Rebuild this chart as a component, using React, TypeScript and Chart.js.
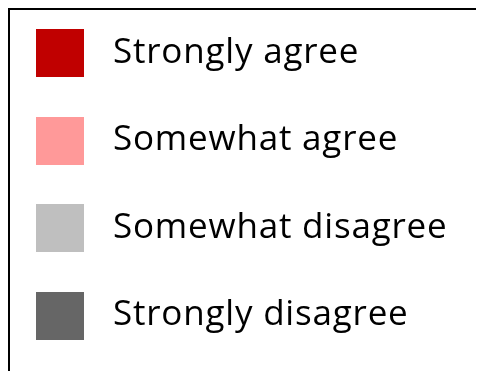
import React, { useEffect, useRef } from 'react';
import { Chart, registerables } from 'chart.js';

Chart.register(...registerables);

// Legend-only chart: the series shown in the legend
const categories: string[] = [];
const seriesLabels = ['Strongly agree', 'Somewhat agree', 'Somewhat disagree', 'Strongly disagree'];
const seriesColors = ['#C00000', '#FF9999', '#BFBFBF', '#666666'];
const seriesValues: number[][] = [[], [], [], []];

const SWATCH = 48;

function makeSwatch(color: string): HTMLCanvasElement {
  const c = document.createElement('canvas');
  c.width = SWATCH;
  c.height = SWATCH;
  const g = c.getContext('2d')!;
  g.fillStyle = color;
  g.fillRect(0, 0, SWATCH, SWATCH);
  return c;
}

const spacingPlugin = {
  id: 'letterSpacing',
  beforeLayout(chart: any) {
    chart.ctx.letterSpacing = '0.8px';
  },
  beforeDraw(chart: any) {
    chart.ctx.letterSpacing = '0.8px';
  },
};

export default function App() {
  const ref = useRef<HTMLCanvasElement | null>(null);

  useEffect(() => {
    if (!ref.current) return;
    const swatches = seriesColors.map(makeSwatch);
    const chart = new Chart(ref.current, {
      type: 'bar',
      data: {
        labels: categories,
        datasets: seriesLabels.map((label, i) => ({
          label,
          data: seriesValues[i],
          backgroundColor: seriesColors[i],
        })),
      },
      plugins: [spacingPlugin],
      options: {
        responsive: false,
        animation: false,
        layout: { padding: { left: -38, top: -27, right: 0, bottom: -80 } },
        scales: { x: { display: false }, y: { display: false } },
        plugins: {
          tooltip: { enabled: false },
          legend: {
            display: true,
            position: 'left',
            align: 'start',
            maxWidth: 2000,
            labels: {
              color: '#000',
              font: { family: 'Open Sans', size: 35 },
              padding: 52.5,
              usePointStyle: true,
              pointStyleWidth: 71,
              generateLabels: (ch: any) =>
                ch.data.datasets.map((ds: any, i: number) => ({
                  text: ds.label,
                  fillStyle: ds.backgroundColor,
                  strokeStyle: ds.backgroundColor,
                  lineWidth: 0,
                  pointStyle: swatches[i],
                  hidden: false,
                  datasetIndex: i,
                  fontColor: '#000',
                })),
            },
          },
        },
      },
    });
    return () => chart.destroy();
  }, []);

  return (
    <div
      style={{
        position: 'relative',
        boxSizing: 'border-box',
        marginRight: -8,
        height: 363,
        overflow: 'hidden',
        borderTop: '2px solid #000',
        borderLeft: '2px solid #000',
      }}
    >
      <canvas
        ref={ref}
        width={474}
        height={361}
        style={{ display: 'block', maxWidth: 'none' }}
      />
    </div>
  );
}
